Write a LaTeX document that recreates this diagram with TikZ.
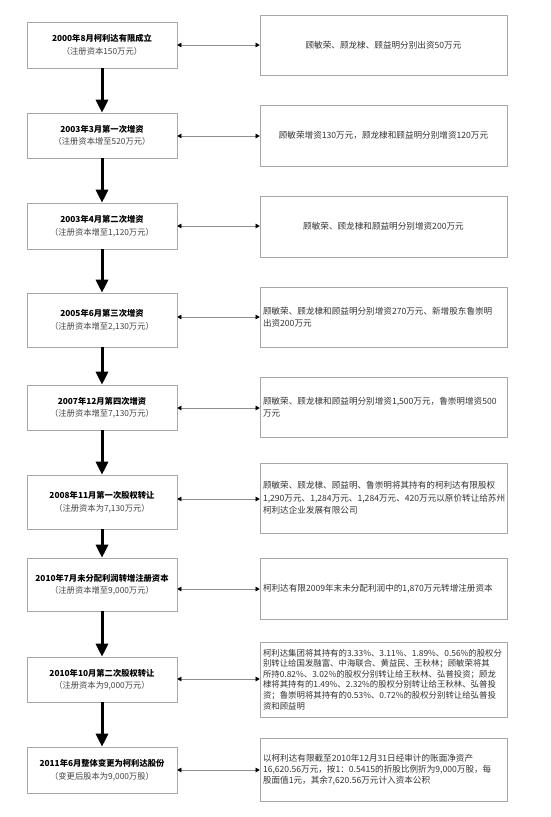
\documentclass[tikz,border=0pt]{standalone}
\usepackage{fontspec}
\setmainfont{Noto Sans CJK SC}
\usetikzlibrary{arrows.meta}
\definecolor{boxgray}{HTML}{A8A8A8}
\definecolor{arrgray}{HTML}{8E8E8E}
\definecolor{bodytext}{HTML}{333333}
\definecolor{subtext}{HTML}{444444}
\begin{document}
\begin{tikzpicture}[x=1pt,y=-1pt,
  lbox/.style={draw=boxgray, line width=0.6pt, minimum width=150pt, inner sep=2pt,
    align=center, font=\fontsize{8.3}{12.5}\selectfont},
  rbox/.style={draw=boxgray, line width=0.6pt, minimum width=247pt, inner sep=3pt,
    text=bodytext, font=\fontsize{8.6}{12.5}\selectfont},
  rleft/.style={rbox, text width=241pt, align=left},
  rcenter/.style={rbox, align=center},
  varrow/.style={line width=3pt, draw=black,
    arrows={-Triangle[width=12pt,length=13pt]}},
  harrow/.style={line width=0.5pt, draw=arrgray,
    arrows={Triangle[width=4.5pt,length=4pt,color=black]-Triangle[width=4.5pt,length=4pt,color=black]}},
]
\useasboundingbox (0,0) rectangle (550,817);
\fill[white] (0,0) rectangle (550,817);

\newcommand{\ttl}[2]{\textbf{#1}\\{\color{subtext}#2}}

% left column
\node[lbox, minimum height=46pt] (L1) at (102,45)    {\ttl{2000年8月柯利达有限成立}{（注册资本150万元）}};
\node[lbox, minimum height=45pt] (L2) at (102,135.5) {\ttl{2003年3月第一次增资}{（注册资本增至520万元）}};
\node[lbox, minimum height=46pt] (L3) at (102,226)   {\ttl{2003年4月第二次增资}{（注册资本增至1,120万元）}};
\node[lbox, minimum height=54pt] (L4) at (102,320)   {\ttl{2005年6月第三次增资}{（注册资本增至2,130万元）}};
\node[lbox, minimum height=45pt] (L5) at (102,407.5) {\ttl{2007年12月第四次增资}{（注册资本增至7,130万元）}};
\node[lbox, minimum height=54pt] (L6) at (102,502)   {\ttl{2008年11月第一次股权转让}{（注册资本为7,130万元）}};
\node[lbox, minimum height=53pt] (L7) at (102,584.5) {\ttl{2010年7月未分配利润转增注册资本}{（注册资本增至9,000万元）}};
\node[lbox, minimum height=45pt] (L8) at (102,679.5) {\ttl{2010年10月第二次股权转让}{（注册资本为9,000万元）}};
\node[lbox, minimum height=46pt] (L9) at (102,770)   {\ttl{2011年6月整体变更为柯利达股份}{（变更后股本为9,000万股）}};

% right column
\node[rcenter, minimum height=60pt] (R1) at (383.5,45)    {顾敏荣、顾龙棣、顾益明分别出资50万元};
\node[rcenter, minimum height=61pt] (R2) at (383.5,135.5) {顾敏荣增资130万元，顾龙棣和顾益明分别增资120万元};
\node[rcenter, minimum height=61pt] (R3) at (383.5,226.5) {顾敏荣、顾龙棣和顾益明分别增资200万元};
\node[rleft, minimum height=60pt] (R4) at (383.5,317) {顾敏荣、顾龙棣和顾益明分别增资270万元、新增股东鲁崇明\\出资200万元};
\node[rleft, minimum height=60pt] (R5) at (383.5,407) {顾敏荣、顾龙棣和顾益明分别增资1,500万元，鲁崇明增资500\\万元};
\node[rleft, minimum height=70pt] (R6) at (383.5,498) {顾敏荣、顾龙棣、顾益明、鲁崇明将其持有的柯利达有限股权\\1,290万元、1,284万元、1,284万元、420万元以原价转让给苏州\\柯利达企业发展有限公司};
\node[rleft, minimum height=61pt] (R7) at (383.5,588.5) {柯利达有限2009年末未分配利润中的1,870万元转增注册资本};
\node[rleft, minimum height=75pt, font=\fontsize{8.4}{10.6}\selectfont] (R8) at (383.5,679.5) {柯利达集团将其持有的3.33\%、3.11\%、1.89\%、0.56\%的股权分\\别转让给国发融富、中海联合、黄益民、王秋林；顾敏荣将其\\所持0.82\%、3.02\%的股权分别转让给王秋林、弘普投资；顾龙\\棣将其持有的1.49\%、2.32\%的股权分别转让给王秋林、弘普投\\资；鲁崇明将其持有的0.53\%、0.72\%的股权分别转让给弘普投\\资和顾益明};
\node[rleft, minimum height=63pt, font=\fontsize{8.6}{11}\selectfont] (R9) at (383.5,769.5) {以柯利达有限截至2010年12月31日经审计的账面净资产\\16,620.56万元，按1：0.5415的折股比例折为9,000万股，每\\股面值1元，其余7,620.56万元计入资本公积};

% arrow rows
\coordinate (a1) at (0,45);
\coordinate (a2) at (0,136);
\coordinate (a3) at (0,226);
\coordinate (a4) at (0,317);
\coordinate (a5) at (0,408);
\coordinate (a6) at (0,499);
\coordinate (a7) at (0,589);
\coordinate (a8) at (0,679);
\coordinate (a9) at (0,770);

\foreach \i in {1,...,9}{
  \draw[harrow] (L\i.east |- a\i) -- (R\i.west |- a\i);
}
\foreach \i [evaluate=\i as \j using int(\i+1)] in {1,...,8}{
  \draw[varrow] (L\i.south) -- (L\j.north);
}
\end{tikzpicture}
\end{document}
